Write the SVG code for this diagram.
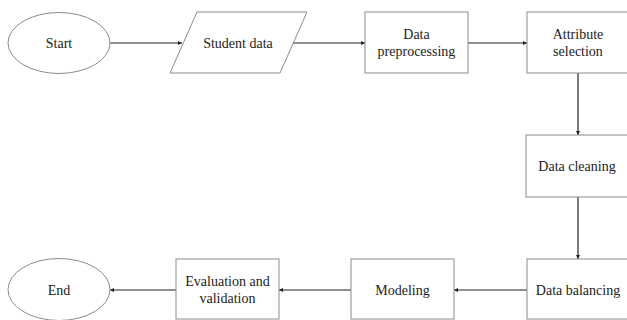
<svg xmlns="http://www.w3.org/2000/svg" width="627" height="320" viewBox="0 0 627 320">
<style>
.shape{fill:#fff;stroke:#8c8c8c;stroke-width:1}
.lbl{font-family:"Liberation Serif","Times New Roman",serif;font-size:14px;fill:#222;text-anchor:middle}
.conn{stroke:#222;stroke-width:1.2;fill:none;marker-end:url(#ah)}
</style>
<defs>
<marker id="ah" viewBox="0 0 10 10" refX="10" refY="5" markerWidth="4" markerHeight="4" orient="auto" markerUnits="userSpaceOnUse">
<path d="M0,0 L10,5 L0,10 z" fill="#222"/>
</marker>
</defs>
<rect width="627" height="320" fill="#fff"/>
<g id="connectors">
<line class="conn" x1="110" y1="43" x2="182" y2="43"/>
<line class="conn" x1="293" y1="43" x2="365" y2="43"/>
<line class="conn" x1="468" y1="43" x2="527" y2="43"/>
<line class="conn" x1="578" y1="73" x2="578" y2="135"/>
<line class="conn" x1="578" y1="197" x2="578" y2="259"/>
<line class="conn" x1="527" y1="290" x2="454" y2="290"/>
<line class="conn" x1="351" y1="290" x2="279" y2="290"/>
<line class="conn" x1="176" y1="290" x2="110" y2="290"/>
</g>
<g id="start">
<ellipse class="shape" cx="59" cy="43" rx="51" ry="30.5"/>
<text class="lbl" x="59" y="48">Start</text>
</g>
<g id="student-data">
<polygon class="shape" points="197,12 307,12 280,73 170,73"/>
<text class="lbl" x="238" y="48">Student data</text>
</g>
<g id="data-preprocessing">
<rect class="shape" x="365" y="12" width="103" height="61"/>
<text class="lbl" x="416.5" y="38.5">Data</text>
<text class="lbl" x="416.5" y="55.5">preprocessing</text>
</g>
<g id="attribute-selection">
<rect class="shape" x="527" y="12" width="110" height="61"/>
<text class="lbl" x="578" y="38.5">Attribute</text>
<text class="lbl" x="578" y="55.5">selection</text>
</g>
<g id="data-cleaning">
<rect class="shape" x="526" y="135" width="110" height="62"/>
<text class="lbl" x="577" y="171">Data cleaning</text>
</g>
<g id="data-balancing">
<rect class="shape" x="527" y="259" width="110" height="60"/>
<text class="lbl" x="578" y="294.5">Data balancing</text>
</g>
<g id="modeling">
<rect class="shape" x="351" y="259" width="103" height="60"/>
<text class="lbl" x="402.5" y="294.5">Modeling</text>
</g>
<g id="evaluation">
<rect class="shape" x="176" y="259" width="103" height="60"/>
<text class="lbl" x="227.5" y="285.5">Evaluation and</text>
<text class="lbl" x="227.5" y="302.5">validation</text>
</g>
<g id="end">
<ellipse class="shape" cx="59" cy="289.5" rx="51" ry="31"/>
<text class="lbl" x="59" y="294.5">End</text>
</g>
</svg>
